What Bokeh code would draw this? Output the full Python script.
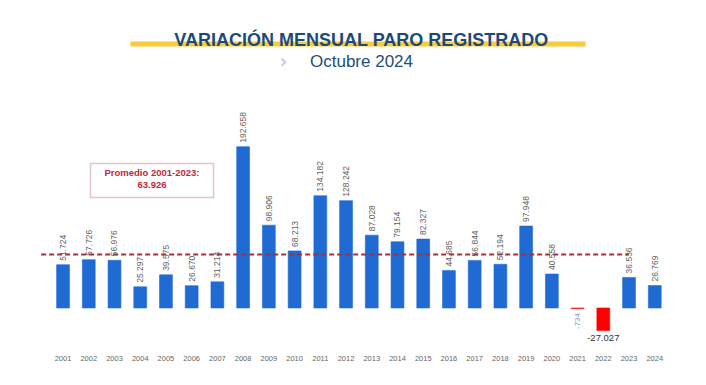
import math
from bokeh.plotting import figure
from bokeh.models import (ColumnDataSource, FixedTicker, Label, BoxAnnotation, Range1d)
from bokeh.core.properties import value
from bokeh.embed import file_html
from bokeh.resources import INLINE

# ---- data ----
years = list(range(2001, 2025))
values = [51724, 57726, 56976, 25297, 39575, 26670, 31214, 192658, 98906, 68213,
          134182, 128242, 87028, 79154, 82327, 44685, 56844, 52194, 97948, 40558,
          -734, -27027, 36536, 26769]
promedio = 63926
title_text = "VARIACIÓN MENSUAL PARO REGISTRADO"
subtitle_text = "Octubre 2024"
promedio_label = "Promedio 2001-2023:"

def fmt(v):
    return f"{v:,}".replace(",", ".")

BLUE = "#1f6bd3"
RED = "#ff0000"
FONT = "Liberation Sans"

p = figure(width=700, height=380, output_backend="svg", toolbar_location=None,
           x_range=Range1d(1998.88, 2025.70), y_range=Range1d(-44800, 357800),
           min_border_left=8, min_border_right=2, min_border_top=8, min_border_bottom=35)
p.outline_line_color = None
p.grid.visible = False
p.yaxis.visible = False
p.background_fill_color = "white"
p.border_fill_color = "white"

xa = p.xaxis[0]
xa.ticker = FixedTicker(ticks=years)
xa.axis_line_color = None
xa.major_tick_line_color = None
xa.minor_tick_line_color = None
xa.major_tick_out = 0
xa.major_label_text_font = FONT
xa.major_label_text_font_size = "7.5px"
xa.major_label_text_color = "#666666"
xa.major_label_standoff = 10

# bars
colors = [BLUE if v >= 0 else RED for v in values]
src = ColumnDataSource(dict(x=years, top=values, color=colors))
p.vbar(x="x", top="top", bottom=0, width=0.5, fill_color="color", line_color="color",
       line_alpha=0.6, source=src)

# average dashed line (2001 .. 2023)
p.segment(x0=[years[0] - 0.85], x1=[years[-2]], y0=[promedio], y1=[promedio],
          line_color="#a3303a", line_width=2, line_dash="5 3")

# value labels
pos = [(x, v) for x, v in zip(years, values) if v >= 0]
p.text(x=[a for a, _ in pos], y=[b for _, b in pos], text=[fmt(b) for _, b in pos],
       angle=math.pi / 2, text_align="left", text_baseline="middle", y_offset=-4,
       text_font=value(FONT), text_font_size="8.5px", text_color="#5f5f5f")

neg_small = [(x, v) for x, v in zip(years, values) if -5000 < v < 0]
p.text(x=[a for a, _ in neg_small], y=[0 for _ in neg_small], text=[fmt(b) for _, b in neg_small],
       angle=math.pi / 2, text_align="right", text_baseline="middle", y_offset=5,
       text_font=value(FONT), text_font_size="8px", text_color="#8c9bb5")

neg_big = [(x, v) for x, v in zip(years, values) if v <= -5000]
p.text(x=[a for a, _ in neg_big], y=[b for _, b in neg_big], text=[fmt(b) for _, b in neg_big],
       text_align="center", text_baseline="top", y_offset=4,
       text_font=value(FONT), text_font_size="9.5px", text_color="#333333")

# title block (screen units, relative to frame bottom-left)
p.add_layout(BoxAnnotation(left=122, right=577, bottom=299, top=304,
                           left_units="screen", right_units="screen",
                           bottom_units="screen", top_units="screen",
                           fill_color="#f9cb3a", fill_alpha=1, line_color=None, level="annotation"))
p.add_layout(Label(x=353, y=305.5, x_units="screen", y_units="screen", text=title_text,
                   text_align="center", text_baseline="middle", text_font=FONT,
                   text_font_style="bold", text_font_size="18px", text_color="#1b4a7a"))
p.add_layout(Label(x=353, y=284, x_units="screen", y_units="screen", text=subtitle_text,
                   text_align="center", text_baseline="middle", text_font=FONT,
                   text_font_size="17px", text_color="#1f4e79"))
p.add_layout(Label(x=275, y=285, x_units="screen", y_units="screen", text="›",
                   text_align="center", text_baseline="middle", text_font="DejaVu Sans",
                   text_font_style="bold", text_font_size="19px", text_color="#c3cde0"))

# promedio box
p.add_layout(BoxAnnotation(left=82, right=205, bottom=148, top=182,
                           left_units="screen", right_units="screen",
                           bottom_units="screen", top_units="screen",
                           fill_color="white", fill_alpha=1, line_color="#9e3d4c", line_width=1.5))
p.add_layout(Label(x=143.5, y=173, x_units="screen", y_units="screen", text=promedio_label,
                   text_align="center", text_baseline="middle", text_font=FONT,
                   text_font_style="bold", text_font_size="9.5px", text_color="#c0283a"))
p.add_layout(Label(x=143.5, y=161, x_units="screen", y_units="screen", text=fmt(promedio),
                   text_align="center", text_baseline="middle", text_font=FONT,
                   text_font_style="bold", text_font_size="9.5px", text_color="#c0283a"))

open("out.html", "w").write(file_html(p, INLINE))
